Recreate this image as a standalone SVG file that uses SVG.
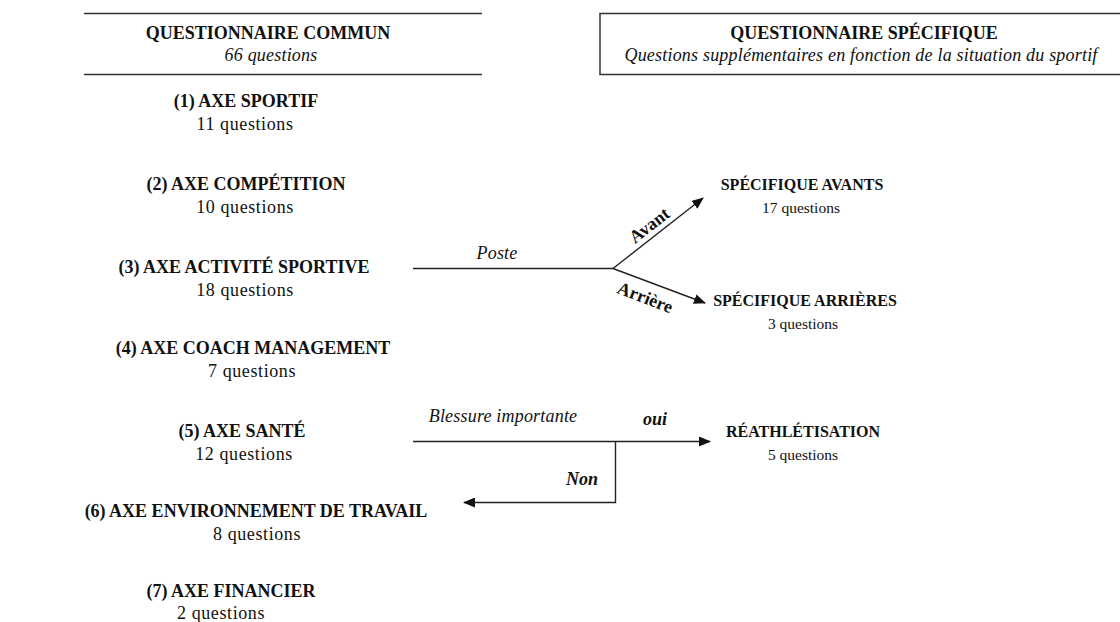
<svg xmlns="http://www.w3.org/2000/svg" width="1120" height="622" viewBox="0 0 1120 622">
<style>
.b{font-family:"Liberation Serif",serif;font-weight:bold;font-size:18px;fill:#111;text-anchor:middle}
.r{font-family:"Liberation Serif",serif;font-size:18px;fill:#111;text-anchor:middle;letter-spacing:0.6px}
.bs{font-family:"Liberation Serif",serif;font-weight:bold;font-size:16px;fill:#111;text-anchor:middle}
.rs{font-family:"Liberation Serif",serif;font-size:15.5px;fill:#111;text-anchor:middle}
.i{font-family:"Liberation Serif",serif;font-style:italic;font-size:18px;fill:#111;text-anchor:middle;letter-spacing:0.2px}
.bi{font-family:"Liberation Serif",serif;font-style:italic;font-weight:bold;font-size:18px;fill:#111;text-anchor:middle}
.frame{fill:none;stroke:#333;stroke-width:1.5}
.c{fill:none;stroke:#222;stroke-width:1.4}
</style>
<defs>
<marker id="ah" markerWidth="12" markerHeight="10" refX="11" refY="5" orient="auto" markerUnits="userSpaceOnUse">
<path d="M0,0 L12,5 L0,10 Z" fill="#111"/>
</marker>
</defs>

<g id="box-commun">
<path class="frame" d="M84,13.5 H482 M84,74.5 H482"/>
<text class="b" x="268" y="39">QUESTIONNAIRE COMMUN</text>
<text class="i" x="271" y="61">66 questions</text>
</g>
<g id="box-specifique">
<path class="frame" d="M1120,13.5 H600 V74.5 H1120"/>
<text class="b" x="864" y="39">QUESTIONNAIRE SPÉCIFIQUE</text>
<text class="i" x="861" y="61">Questions supplémentaires en fonction de la situation du sportif</text>
</g>

<g id="axe1"><text class="b" x="246" y="107">(1) AXE SPORTIF</text><text class="r" x="245" y="130">11 questions</text></g>
<g id="axe2"><text class="b" x="246" y="190">(2) AXE COMPÉTITION</text><text class="r" x="245" y="213">10 questions</text></g>
<g id="axe3"><text class="b" x="244" y="273">(3) AXE ACTIVITÉ SPORTIVE</text><text class="r" x="245" y="296">18 questions</text></g>
<g id="axe4"><text class="b" x="253" y="354">(4) AXE COACH MANAGEMENT</text><text class="r" x="252" y="377">7 questions</text></g>
<g id="axe5"><text class="b" x="242" y="437">(5) AXE SANTÉ</text><text class="r" x="244" y="460">12 questions</text></g>
<g id="axe6"><text class="b" x="256" y="517">(6) AXE ENVIRONNEMENT DE TRAVAIL</text><text class="r" x="257" y="540">8 questions</text></g>
<g id="axe7"><text class="b" x="231" y="597">(7) AXE FINANCIER</text><text class="r" x="221" y="619">2 questions</text></g>

<g id="spec-avants"><text class="bs" x="802" y="190">SPÉCIFIQUE AVANTS</text><text class="rs" x="801" y="213">17 questions</text></g>
<g id="spec-arrieres"><text class="bs" x="805" y="306">SPÉCIFIQUE ARRIÈRES</text><text class="rs" x="803" y="329">3 questions</text></g>
<g id="reathletisation"><text class="bs" x="803" y="437">RÉATHLÉTISATION</text><text class="rs" x="803" y="460">5 questions</text></g>

<g id="connectors">
<path class="c" d="M413,268.5 H613"/>
<path class="c" d="M613,268.5 L703,198" marker-end="url(#ah)"/>
<path class="c" d="M613,268.5 L705,303" marker-end="url(#ah)"/>
<path class="c" d="M413,441.5 H710" marker-end="url(#ah)"/>
<path class="c" d="M615.5,441.5 V502.5 H464" marker-end="url(#ah)"/>
<text class="i" x="497" y="259">Poste</text>
<text class="b" x="0" y="0" transform="translate(653,230) rotate(-38)">Avant</text>
<text class="b" x="0" y="0" transform="translate(643,303) rotate(21)">Arrière</text>
<text class="i" x="503" y="422">Blessure importante</text>
<text class="bi" x="655" y="425">oui</text>
<text class="bi" x="582" y="485">Non</text>
</g>
</svg>
